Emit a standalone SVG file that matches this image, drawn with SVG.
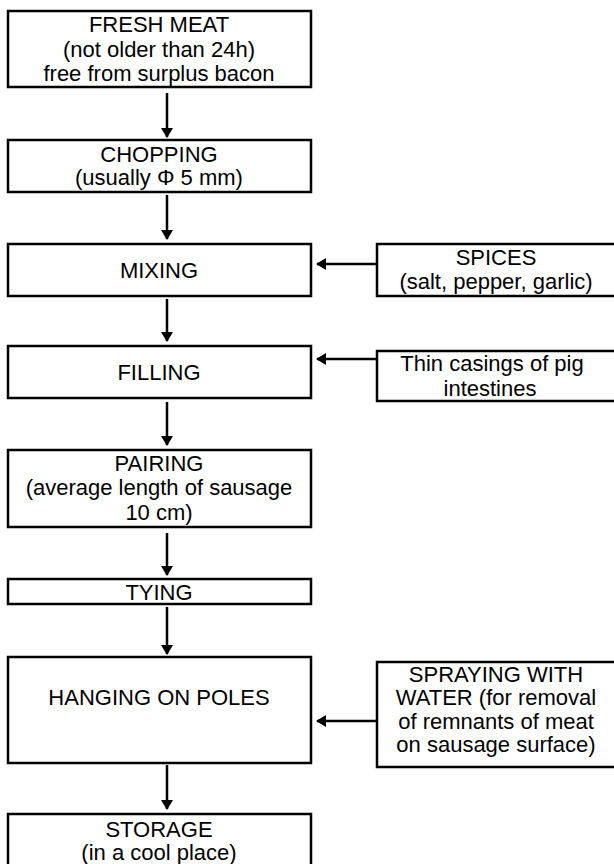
<svg xmlns="http://www.w3.org/2000/svg" width="614" height="864" viewBox="0 0 614 864">
<defs>
<marker id="ah" markerWidth="10" markerHeight="12" refX="9" refY="6" orient="auto" markerUnits="userSpaceOnUse">
<path d="M0,0 L10,6 L0,12 z" fill="#000"/>
</marker>
<style>
.box{fill:#fff;stroke:#000;stroke-width:2.5}
.t{font-family:"Liberation Sans",Arial,sans-serif;font-size:22px;fill:#000;text-anchor:middle}
.c{stroke:#000;stroke-width:2.5;fill:none;marker-end:url(#ah)}
</style>
</defs>
<rect width="614" height="864" fill="#fff"/>
<g id="connectors">
<line class="c" x1="167" y1="93" x2="167" y2="137"/>
<line class="c" x1="167" y1="195" x2="167" y2="239"/>
<line class="c" x1="167" y1="299" x2="167" y2="341"/>
<line class="c" x1="167" y1="402" x2="167" y2="445"/>
<line class="c" x1="167" y1="533" x2="167" y2="575"/>
<line class="c" x1="167" y1="607" x2="167" y2="654"/>
<line class="c" x1="167" y1="765" x2="167" y2="809"/>
<line class="c" x1="377" y1="264" x2="317" y2="264"/>
<line class="c" x1="377" y1="359" x2="317" y2="359"/>
<line class="c" x1="377" y1="721" x2="317" y2="721"/>
</g>
<g id="fresh-meat">
<rect class="box" x="8" y="11" width="303" height="76"/>
<text class="t" x="159" y="32">FRESH MEAT</text>
<text class="t" x="159" y="57">(not older than 24h)</text>
<text class="t" x="159" y="81">free from surplus bacon</text>
</g>
<g id="chopping">
<rect class="box" x="8" y="140" width="303" height="52"/>
<text class="t" x="159" y="162">CHOPPING</text>
<text class="t" x="159" y="185">(usually Φ 5 mm)</text>
</g>
<g id="mixing">
<rect class="box" x="8" y="244" width="303" height="52"/>
<text class="t" x="159" y="278">MIXING</text>
</g>
<g id="spices">
<rect class="box" x="377" y="244" width="240" height="52"/>
<text class="t" x="496" y="265">SPICES</text>
<text class="t" x="496" y="289">(salt, pepper, garlic)</text>
</g>
<g id="filling">
<rect class="box" x="8" y="346" width="303" height="52"/>
<text class="t" x="159" y="380">FILLING</text>
</g>
<g id="casings">
<rect class="box" x="377" y="351" width="240" height="50"/>
<text class="t" x="492" y="371">Thin casings of pig</text>
<text class="t" x="490" y="396">intestines</text>
</g>
<g id="pairing">
<rect class="box" x="8" y="450" width="303" height="77"/>
<text class="t" x="159" y="471">PAIRING</text>
<text class="t" x="159" y="495">(average length of sausage</text>
<text class="t" x="159" y="520">10 cm)</text>
</g>
<g id="tying">
<rect class="box" x="8" y="579" width="303" height="25"/>
<text class="t" x="159" y="600">TYING</text>
</g>
<g id="hanging">
<rect class="box" x="8" y="657" width="303" height="106"/>
<text class="t" x="159" y="705">HANGING ON POLES</text>
</g>
<g id="spraying">
<rect class="box" x="377" y="662" width="240" height="105"/>
<text class="t" x="496" y="682">SPRAYING WITH</text>
<text class="t" x="496" y="705">WATER (for removal</text>
<text class="t" x="496" y="729">of remnants of meat</text>
<text class="t" x="496" y="752">on sausage surface)</text>
</g>
<g id="storage">
<rect class="box" x="8" y="814" width="303" height="60"/>
<text class="t" x="159" y="837">STORAGE</text>
<text class="t" x="159" y="860">(in a cool place)</text>
</g>
</svg>
